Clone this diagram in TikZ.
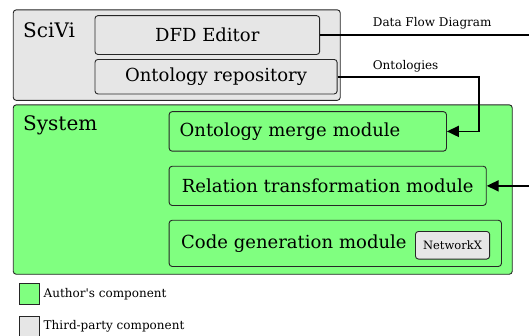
\documentclass[tikz,border=0pt]{standalone}
\usepackage{fontspec}
\setmainfont{DejaVu Serif}
\usetikzlibrary{arrows.meta}
\definecolor{partgray}{HTML}{E6E6E6}
\definecolor{owngreen}{HTML}{80FF80}
\tikzset{
  panel/.style={draw=black!85, line width=0.9pt, rounded corners=3pt, anchor=north west, inner sep=0pt},
  unit/.style={draw=black!85, line width=0.9pt, rounded corners=3pt, anchor=north west, inner sep=0pt,
    font=\fontsize{18}{21}\selectfont},
  heading/.style={anchor=base west, inner sep=0pt, font=\fontsize{20}{24}\selectfont},
  caption/.style={anchor=base west, inner sep=0pt, font=\fontsize{12}{14}\selectfont},
  flow/.style={line width=1.8pt, -{Triangle[length=12pt,width=11pt]}},
  plainflow/.style={line width=1.8pt},
  swatch/.style={draw=black!85, line width=0.9pt, anchor=north west, minimum width=19.5pt,
    minimum height=20.5pt, inner sep=0pt},
}
\begin{document}
\begin{tikzpicture}[x=1pt, y=-1pt]
\useasboundingbox (0,0) rectangle (529,335);

% SciVi platform
\node[panel, fill=partgray, minimum width=327pt, minimum height=90.5pt] (scivi) at (12.8,9.4) {};
\node[heading] (scivititle) at (23,37) {SciVi};
\node[unit, fill=partgray, minimum width=224.7pt, minimum height=38.8pt] (dfd) at (94.5,15.2) {DFD Editor};
\node[unit, fill=partgray, minimum width=242.2pt, minimum height=34.5pt] (repo) at (94.5,59) {Ontology repository};

% The system itself
\node[panel, fill=owngreen, minimum width=499pt, minimum height=169.4pt] (system) at (12.8,104.4) {};
\node[heading] (systemtitle) at (23,130) {System};
\node[unit, fill=owngreen, minimum width=277.3pt, minimum height=39.5pt,
      inner xsep=10.5pt, text width=256.3pt, align=left] (merge) at (168.7,111.2) {Ontology merge module};
\node[unit, fill=owngreen, minimum width=317.1pt, minimum height=39.2pt] (relation) at (168.7,165.8) {Relation transformation module};
\node[unit, fill=owngreen, minimum width=332.3pt, minimum height=46.2pt,
      inner xsep=12pt, text width=308.3pt, align=left] (codegen) at (168.7,219.8) {Code generation module};
\node[panel, fill=partgray, minimum width=74.2pt, minimum height=27.6pt,
      font=\fontsize{11.5}{13}\selectfont] (networkx) at (415,231) {NetworkX};

% Connectors
\coordinate (dfdout) at (529,34.6);
\coordinate (ontcorner) at (479,75);
\coordinate (relin) at (529,185.4);
\draw[plainflow] (dfd.east) -- (dfd.east -| dfdout);
\draw[flow] (repo.east) -- (repo.east -| ontcorner) |- (merge.east);
\draw[flow] (relation.east -| relin) -- (relation.east);
\node[caption] (dfdlabel) at (372.7,26) {Data Flow Diagram};
\node[caption] (ontlabel) at (372.7,69) {Ontologies};

% Legend
\node[swatch, fill=owngreen] (ownkey) at (19,283) {};
\node[caption] (owntext) at (43.5,297.7) {Author\textquotesingle s component};
\node[swatch, fill=partgray] (partkey) at (19,315.5) {};
\node[caption] (parttext) at (43.5,329.7) {Third-party component};
\end{tikzpicture}
\end{document}
